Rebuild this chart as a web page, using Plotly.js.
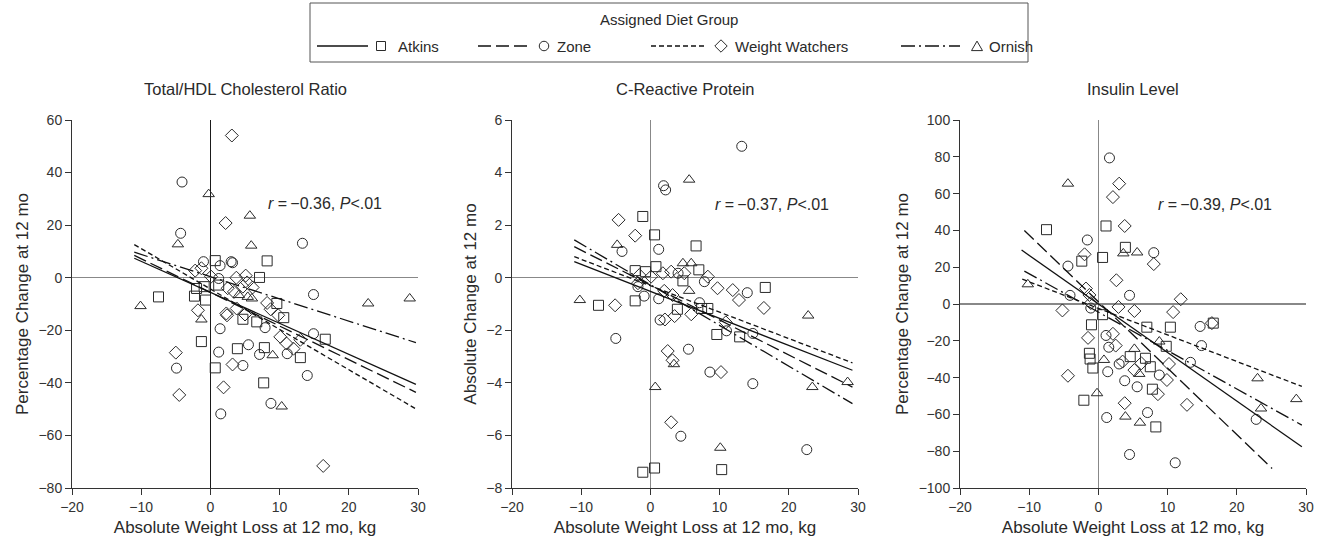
<!DOCTYPE html>
<html><head><meta charset="utf-8">
<script src="https://cdn.plot.ly/plotly-3.0.1.min.js"></script>
<style>html,body{margin:0;padding:0;background:#fff}#chart{width:1323px;height:537px}</style>
</head><body><div id="chart"></div>
<script>
// ---------- DATA ----------
const groupNames = ['Atkins', 'Zone', 'Weight Watchers', 'Ornish'];
const panelTitles = ['Total/HDL Cholesterol Ratio', 'C-Reactive Protein', 'Insulin Level'];
const yTitles = ['Percentage Change at 12 mo', 'Absolute Change at 12 mo', 'Percentage Change at 12 mo'];
const xTitle = 'Absolute Weight Loss at 12 mo, kg';
const corrTexts = ['<i>r</i> =\u2009\u22120.36, <i>P</i>&lt;.01', '<i>r</i> =\u2009\u22120.37, <i>P</i>&lt;.01', '<i>r</i> =\u2009\u22120.39, <i>P</i>&lt;.01'];

// Panel 1: Total/HDL cholesterol ratio (% change)
const hdlAtkinsX = [-7.5, 0.7, 8.2, 7.1, -0.9, -2.0, -2.3, -0.7, 1.2, 9.6, 10.6, 4.7, 6.7, 3.9, 7.8, 13.0, 16.6, -1.3, 0.7, 7.7];
const hdlAtkinsY = [-7.3, 6.5, 6.4, 0.1, -3.4, -4.1, -7.0, -8.5, -2.8, -9.8, -15.2, -15.8, -16.8, -27.0, -26.6, -30.4, -23.4, -24.3, -34.3, -40.0];
const hdlZoneX = [-4.1, -4.3, -1.0, 3.2, 1.4, 1.2, 13.3, 14.9, 1.4, 1.2, 5.5, 7.1, 4.7, 7.9, 11.1, 14.9, 14.0, 8.75, 1.5, -4.9, 3.0];
const hdlZoneY = [36.4, 16.9, 6.1, 5.7, 4.6, -0.3, 13.1, -6.4, -19.4, -28.3, -25.5, -29.2, -33.4, -19.0, -28.9, -21.3, -37.2, -47.8, -51.8, -34.4, 6.1];
const hdlWWX = [3.1, 2.2, -2.2, -1.3, 0.1, 3.75, 5.1, 5.3, 6.1, 3.4, 2.5, 4.7, 3.8, 2.4, -1.8, 8.2, 8.7, 9.8, 10.1, 11.0, 12.0, 13.0, 3.2, -5.0, -4.5, 1.9, 16.3, 5.0, 2.3];
const hdlWWY = [54.1, 20.8, 2.7, 3.6, 0.4, 0.0, 0.8, -1.8, -3.7, -5.4, -4.0, -3.4, -11.7, -14.3, -12.4, -9.6, -12.0, -14.3, -22.5, -25.0, -27.0, -23.6, -33.0, -28.5, -44.6, -41.7, -71.6, -14.0, -13.6];
const hdlOrnishX = [-0.25, 5.7, 5.9, -4.7, -10.1, 22.8, 28.8, -1.3, 6.0, 4.1, 9.0, 10.3, 5.4];
const hdlOrnishY = [31.8, 23.6, 12.2, 12.7, -10.8, -9.8, -7.9, -15.9, -7.9, -6.6, -29.5, -49.0, -7.3];
const hdlFitX = [-11, 29.7];
const hdlFitAtkinsY = [7.4, -40.6];
const hdlFitZoneY = [8.5, -43.6];
const hdlFitWWY = [12.6, -49.9];
const hdlFitOrnishY = [9.7, -24.7];

// Panel 2: C-reactive protein (absolute change)
const crpAtkinsX = [-1.1, 0.6, 6.6, -7.5, -2.2, 0.8, -0.7, 7.0, 4.7, 16.6, 3.9, 7.4, 8.3, 9.6, 12.9, -1.1, 0.6, 10.3, -2.2];
const crpAtkinsY = [2.33, 1.63, 1.21, -1.05, -0.88, 0.42, 0.23, 0.3, -0.12, -0.37, -1.2, -1.17, -1.17, -2.16, -2.25, -7.4, -7.24, -7.3, 0.27];
const crpZoneX = [13.2, 1.9, 2.2, 1.2, -4.1, -0.9, 1.2, -5.0, 1.4, 7.8, 14.0, 4.0, -1.8, 11.0, 14.8, 5.5, 8.6, 14.8, 4.4, 22.6, 7.1];
const crpZoneY = [5.0, 3.5, 3.34, 1.08, 1.0, -0.7, -0.8, -2.31, -1.61, -0.15, -0.57, 0.17, -0.34, -2.02, -2.12, -2.72, -3.59, -4.03, -6.03, -6.54, -0.95];
const crpWWX = [-4.6, -2.2, -5.1, -1.6, 0.1, 1.8, 3.0, 4.9, 8.3, 9.7, 11.9, 12.8, 16.4, -1.8, 2.0, 3.2, 2.1, 3.5, 5.9, 10.9, 2.5, 3.2, 10.2, 3.0];
const crpWWY = [2.2, 1.6, -1.05, 0.1, 0.04, 0.17, 0.23, 0.17, 0.04, -0.4, -0.47, -0.85, -1.15, -0.21, -0.5, -0.66, -1.59, -1.46, -1.39, -1.7, -2.79, -3.14, -3.59, -5.5];
const crpOrnishX = [5.6, -4.8, -10.2, 4.7, 5.9, 5.6, 3.4, 22.8, 23.4, 28.5, 0.7, 10.1];
const crpOrnishY = [3.73, 1.25, -0.85, 0.55, 0.55, -0.5, -3.29, -1.44, -4.16, -3.97, -4.16, -6.47];
const crpFitX = [-11, 29.2];
const crpFitAtkinsY = [0.61, -3.52];
const crpFitZoneY = [1.18, -4.16];
const crpFitWWY = [0.8, -3.24];
const crpFitOrnishY = [1.44, -4.79];

// Panel 3: Insulin level (% change)
const insAtkinsX = [-7.5, 1.1, 0.6, 3.9, -2.4, 0.6, -1.0, -1.3, -1.2, -0.8, -2.1, 7.0, 10.4, 9.8, 4.6, 6.8, 7.5, 7.8, 8.3, 16.6];
const insAtkinsY = [40.4, 42.4, 25.3, 30.8, 23.3, -5.8, -11.3, -26.8, -29.9, -34.8, -52.3, -12.6, -12.6, -23.0, -28.6, -29.5, -34.1, -46.3, -66.8, -10.4];
const insZoneX = [1.6, -1.6, -4.4, -4.1, -1.1, 4.5, 8.0, 14.7, 14.9, 13.3, 8.8, 5.6, 3.8, 1.35, 1.1, 1.5, 3.0, 1.2, 7.1, 4.5, 11.1, 22.8];
const insZoneY = [79.4, 34.8, 20.6, 4.7, -2.2, 4.7, 27.9, -12.2, -22.6, -31.7, -38.6, -45.0, -41.7, -36.8, -17.1, -23.5, -32.6, -61.7, -59.0, -81.8, -86.3, -62.7];
const insWWX = [3.0, 2.1, 3.8, -2.0, 8.0, 2.6, -1.8, -1.1, -5.2, -4.4, -1.5, 2.1, 2.5, 2.9, 5.2, 10.8, 11.9, 16.4, 3.5, 5.2, 6.2, 10.2, 9.9, 8.6, 3.8, 12.8, -1.3];
const insWWY = [65.4, 58.1, 42.4, 27.0, 21.7, 12.9, 8.4, 0.5, -3.5, -39.0, -18.4, -16.2, -22.6, -1.6, -3.8, -4.4, 2.6, -10.4, -31.3, -35.9, -32.2, -32.6, -41.3, -49.0, -53.9, -54.8, 4.9];
const insOrnishX = [-4.4, -10.2, 3.6, 5.6, 0.8, -0.2, 3.9, 6.0, 5.9, 5.2, 8.8, 23.0, 23.5, 28.6];
const insOrnishY = [65.4, 10.7, 27.5, 28.0, -30.4, -48.5, -61.2, -64.5, -38.0, -24.4, -20.4, -40.4, -56.8, -51.7];
const insFitAtkinsX = [-11.1, 29.4];
const insFitAtkinsY = [29.3, -77.6];
const insFitZoneX = [-10.7, 25.1];
const insFitZoneY = [39.9, -89.4];
const insFitWWX = [-11, 29.4];
const insFitWWY = [13.5, -44.8];
const insFitOrnishX = [-10.7, 29.4];
const insFitOrnishY = [17.9, -65.8];

// ---------- STYLE ----------
const W = 1323, H = 537;
const INK = '#2a2a2a';
const FONT = 'Liberation Sans, Arial, Helvetica, sans-serif';
const symbols = ['square-open', 'circle-open', 'diamond-open', 'triangle-up-open'];
const dashes = ['solid', '13px,5px', '5px,3px', '14px,4px,2px,4px'];

const panels = [
  {ax: '', pts: [[hdlAtkinsX, hdlAtkinsY], [hdlZoneX, hdlZoneY], [hdlWWX, hdlWWY], [hdlOrnishX, hdlOrnishY]],
   fit: [[hdlFitX, hdlFitAtkinsY], [hdlFitX, hdlFitZoneY], [hdlFitX, hdlFitWWY], [hdlFitX, hdlFitOrnishY]]},
  {ax: '2', pts: [[crpAtkinsX, crpAtkinsY], [crpZoneX, crpZoneY], [crpWWX, crpWWY], [crpOrnishX, crpOrnishY]],
   fit: [[crpFitX, crpFitAtkinsY], [crpFitX, crpFitZoneY], [crpFitX, crpFitWWY], [crpFitX, crpFitOrnishY]]},
  {ax: '3', pts: [[insAtkinsX, insAtkinsY], [insZoneX, insZoneY], [insWWX, insWWY], [insOrnishX, insOrnishY]],
   fit: [[insFitAtkinsX, insFitAtkinsY], [insFitZoneX, insFitZoneY], [insFitWWX, insFitWWY], [insFitOrnishX, insFitOrnishY]]}
];

const traces = [];
panels.forEach(p => {
  p.pts.forEach((d, g) => {
    traces.push({type: 'scatter', mode: 'markers', x: d[0], y: d[1], xaxis: 'x' + p.ax, yaxis: 'y' + p.ax,
      name: groupNames[g], showlegend: false, hoverinfo: 'skip', cliponaxis: false,
      marker: {symbol: symbols[g], size: 10, color: INK, line: {width: 1, color: INK}}});
  });
  p.fit.forEach((d, g) => {
    traces.push({type: 'scatter', mode: 'lines', x: d[0], y: d[1], xaxis: 'x' + p.ax, yaxis: 'y' + p.ax,
      name: groupNames[g], showlegend: false, hoverinfo: 'skip',
      line: {color: '#111', width: 1.3, dash: dashes[g]}});
  });
});

const px = v => v / W, py = v => 1 - v / H;
const xDomains = [[72, 418], [512, 858], [960, 1306]];
const yDomain = [py(488), py(120)];
const yRanges = [[-80, 60], [-8, 6], [-100, 100]];
const yDticks = [20, 2, 20];
const vZero = ['#1a1a1a', '#888', '#888'];

const layout = {
  width: W, height: H, autosize: false,
  margin: {l: 0, r: 0, t: 0, b: 0, pad: 0},
  paper_bgcolor: '#fff', plot_bgcolor: '#fff',
  font: {family: FONT, color: INK, size: 14},
  showlegend: false,
  annotations: [], shapes: []
};

panels.forEach((p, i) => {
  const xa = {
    domain: [px(xDomains[i][0]), px(xDomains[i][1])], anchor: 'y' + p.ax,
    range: [-20, 30], tick0: 0, dtick: 10, ticks: 'outside', ticklen: 6, tickwidth: 1, tickcolor: '#333',
    showline: true, linecolor: '#333', linewidth: 1, showgrid: false,
    zeroline: true, zerolinecolor: vZero[i], zerolinewidth: 1.5,
    tickfont: {size: 14, color: '#333', family: FONT},
    title: {text: xTitle, font: {size: 17, color: INK, family: FONT}, standoff: 8},
    fixedrange: true
  };
  const ya = {
    domain: yDomain, anchor: 'x' + p.ax,
    range: yRanges[i], tick0: 0, dtick: yDticks[i], ticks: 'outside', ticklen: 6, tickwidth: 1, tickcolor: '#333',
    showline: true, linecolor: '#333', linewidth: 1, showgrid: false,
    zeroline: true, zerolinecolor: '#888', zerolinewidth: 1.5,
    tickfont: {size: 14, color: '#333', family: FONT},
    title: {text: yTitles[i], font: {size: 17, color: INK, family: FONT}, standoff: 5},
    fixedrange: true
  };
  layout['xaxis' + p.ax] = xa;
  layout['yaxis' + p.ax] = ya;
  layout.annotations.push({
    xref: 'paper', yref: 'paper', x: px((xDomains[i][0] + xDomains[i][1]) / 2), y: py(89),
    xanchor: 'center', yanchor: 'middle', showarrow: false, text: panelTitles[i],
    font: {size: 16.5, color: INK, family: FONT}
  });
});

// correlation labels, placed in data coordinates
const corrPos = [[16.6, 28.2], [17.5, 2.8], [16.8, 53.9]];
panels.forEach((p, i) => {
  layout.annotations.push({
    xref: 'x' + p.ax, yref: 'y' + p.ax, x: corrPos[i][0], y: corrPos[i][1],
    xanchor: 'center', yanchor: 'middle', showarrow: false, text: corrTexts[i],
    font: {size: 16, color: INK, family: FONT}
  });
});

// ---------- custom legend ----------
const legY = 46;
layout.shapes.push({type: 'rect', xref: 'paper', yref: 'paper', x0: px(310), x1: px(1028), y0: py(62), y1: py(3),
  line: {color: '#555', width: 1}, fillcolor: 'rgba(0,0,0,0)'});
layout.annotations.push({xref: 'paper', yref: 'paper', x: px(669), y: py(20), xanchor: 'center', yanchor: 'middle',
  showarrow: false, text: 'Assigned Diet Group', font: {size: 15, color: INK, family: FONT}});
const legKeys = [
  {l0: 317, l1: 368, m: 381, t: 396},
  {l0: 478, l1: 530, m: 544, t: 555},
  {l0: 651, l1: 705, m: 721, t: 733},
  {l0: 901, l1: 960, m: 977, t: 987}
];
const markerShape = [
  {type: 'rect', x0: -4.5, x1: 4.5, y0: -4.5, y1: 4.5},
  {type: 'circle', x0: -4.75, x1: 4.75, y0: -4.75, y1: 4.75},
  {type: 'path', path: 'M0,6.2 L6.2,0 L0,-6.2 L-6.2,0 Z'},
  {type: 'path', path: 'M-5.5,-2.6 L5.5,-2.6 L0,6.9 Z'}
];
legKeys.forEach((k, g) => {
  layout.shapes.push({type: 'line', xref: 'paper', yref: 'paper', x0: px(k.l0), x1: px(k.l1), y0: py(legY), y1: py(legY),
    line: {color: '#111', width: 1.3, dash: dashes[g]}});
  layout.shapes.push(Object.assign({xref: 'paper', yref: 'paper', xsizemode: 'pixel', ysizemode: 'pixel',
    xanchor: px(k.m), yanchor: py(legY + 2), line: {color: INK, width: 1}, fillcolor: 'rgba(0,0,0,0)'},
    markerShape[g], g < 3 ? {yanchor: py(legY)} : {}));
  layout.annotations.push({xref: 'paper', yref: 'paper', x: px(k.t), y: py(legY), xanchor: 'left', yanchor: 'middle',
    showarrow: false, text: groupNames[g], font: {size: 15, color: INK, family: FONT}});
});

Plotly.newPlot('chart', traces, layout, {staticPlot: true, displayModeBar: false});
</script>
</body></html>
